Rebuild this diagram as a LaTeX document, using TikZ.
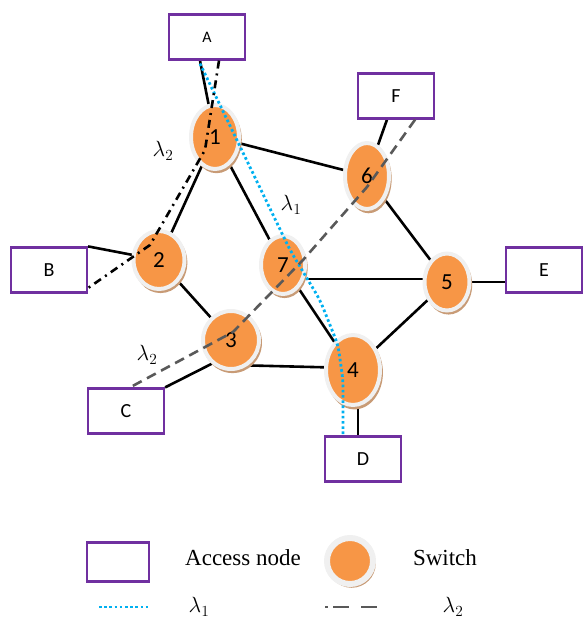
\documentclass[tikz,border=0pt]{standalone}
\usepackage{fix-cm}
\usepackage{fontspec}
\setmainfont{Liberation Serif}
\newfontfamily\calibri{Carlito}
\usetikzlibrary{calc}
\usetikzlibrary{shapes.geometric}
\usetikzlibrary{shadows}
\usetikzlibrary{backgrounds}
\definecolor{swfill}{RGB}{247,150,70}
\definecolor{accpurple}{RGB}{112,48,160}
\definecolor{lamcyan}{RGB}{0,176,240}
\definecolor{shadowbrown}{RGB}{200,155,118}
\definecolor{dashgray}{RGB}{89,89,89}

\begin{document}
\begin{tikzpicture}[x=1pt, y=-1pt,
  switch/.style={ellipse, fill=swfill, draw=black!6, line width=4pt, inner sep=0,
    drop shadow={fill=shadowbrown, opacity=1, shadow xshift=1.5pt, shadow yshift=-2.5pt, shadow scale=1.05},
    font=\calibri\fontsize{23}{23}\selectfont},
  access/.style={rectangle, draw=accpurple, line width=2.2pt, fill=white, inner sep=0,
    minimum width=76pt, minimum height=45pt, font=\calibri\fontsize{20}{20}\selectfont},
  link/.style={black, line width=2.6pt},
  lamone/.style={lamcyan, line width=2.8pt, dash pattern=on 2.6pt off 2.6pt},
  lamtwo/.style={dashgray, line width=2.6pt, dash pattern=on 10pt off 6pt},
  lamtwodot/.style={black, line width=2.6pt, dash pattern=on 8pt off 5pt on 2pt off 5pt},
  lab/.style={font=\fontsize{22}{22}\selectfont}]
\useasboundingbox (0,0) rectangle (583,619);

% switches and access nodes
\foreach \n/\x/\y/\w/\h in {1/215/137/44/60, 2/159/260/47/54, 3/231/340/52/54, 4/353/370/50/66,
                            5/447/282/41/53, 6/367/176/40/62, 7/283/265/40/54}
  \node[switch, minimum width=\w+4, minimum height=\h+4] (n\n) at (\x,\y) {\n};
\node[access, font=\calibri\fontsize{16}{16}\selectfont] (A) at (207,37) {A};
\foreach \b/\x/\y in {B/49/270, C/126/411, D/363/459, E/544/270, F/396/96}
  \node[access] (\b) at (\x,\y) {\b};

\begin{scope}[on background layer]
\draw[link] (n1) -- (n6);
\draw[link] (n1) -- (n2);
\draw[link] (n1) -- (n7);
\draw[link] (n2) -- (n3);
\draw[link] ($(n3)+(0,25)$) -- ($(n4)+(0,-2)$);
\draw[link] (n7) -- (n4);
\draw[link] (n5) -- (n4);
\draw[link] (n6) -- (n5);
\draw[link] ($(n7 |- n5)+(0,-3)$) -- ($(n5)+(0,-3)$);
\draw[link] (n5) -- (n5 -| E.west);
\draw[link] ($(A.south)+(-7,0)$) -- (n1);
\draw[link] (B.north east) -- (n2);
\draw[link] (C.north east) -- ($(n3)+(0,14)$);
\draw[link] ($(F.south)+(-9,0)$) -- (n6);
\draw[link] ($(D.north)+(-5,0)$) -- ($(n4)+(5,0)$);
\end{scope}

% wavelength paths
\draw[lamone, rounded corners=8pt] ($(A.south)+(-7,3)$) -- ($(n7)+(7,-15)$) -- ($(n7)+(37,35)$)
  -- ($(n4)+(-15,-25)$) -- ($(n4)+(-10,10)$) -- ($(D.north)+(-20,0)$);
\draw[lamtwodot] ($(A.south)+(12,0)$) -- ($(n1)+(-10,13)$) -- ($(n2)+(-9,-15)$) -- ($(B.east)+(0,18)$);
\draw[lamtwo] ($(F.south east)+(-20,0)$) -- ($(n6)+(0,11)$) -- ($(n7)+(20,-5)$) -- ($(n3)+(2,-8)$)
  -- ($(C.north)+(4,0)$);
\node[lab] (l2a) at (163,151) {$\lambda_2$};
\node[lab] (l1) at (291,205) {$\lambda_1$};
\node[lab] (l2b) at (147,355) {$\lambda_2$};

% legend
\node[access, minimum width=62pt, minimum height=39pt] (kbox) at (118,562) {};
\node[font=\fontsize{23}{23}\selectfont] (ktext) at (243,558) {Access node};
\node[switch, circle, minimum size=46pt, line width=6pt] (ksw) at (350,561) {};
\node[font=\fontsize{23}{23}\selectfont] (kswtext) at (445,558) {Switch};
\coordinate (k1a) at (99,607);
\coordinate (k1b) at (148,607);
\draw[lamone] (k1a) -- (k1b);
\node[lab] (k1) at (199,607) {$\lambda_1$};
\coordinate (k2a) at (325,607);
\coordinate (k2b) at (377,607);
\draw[dashgray, line width=2.6pt, dash pattern=on 3pt off 5pt on 16pt off 12pt on 16pt off 12pt] (k2a) -- (k2b);
\node[lab] (k2) at (453,607) {$\lambda_2$};
\end{tikzpicture}
\end{document}
